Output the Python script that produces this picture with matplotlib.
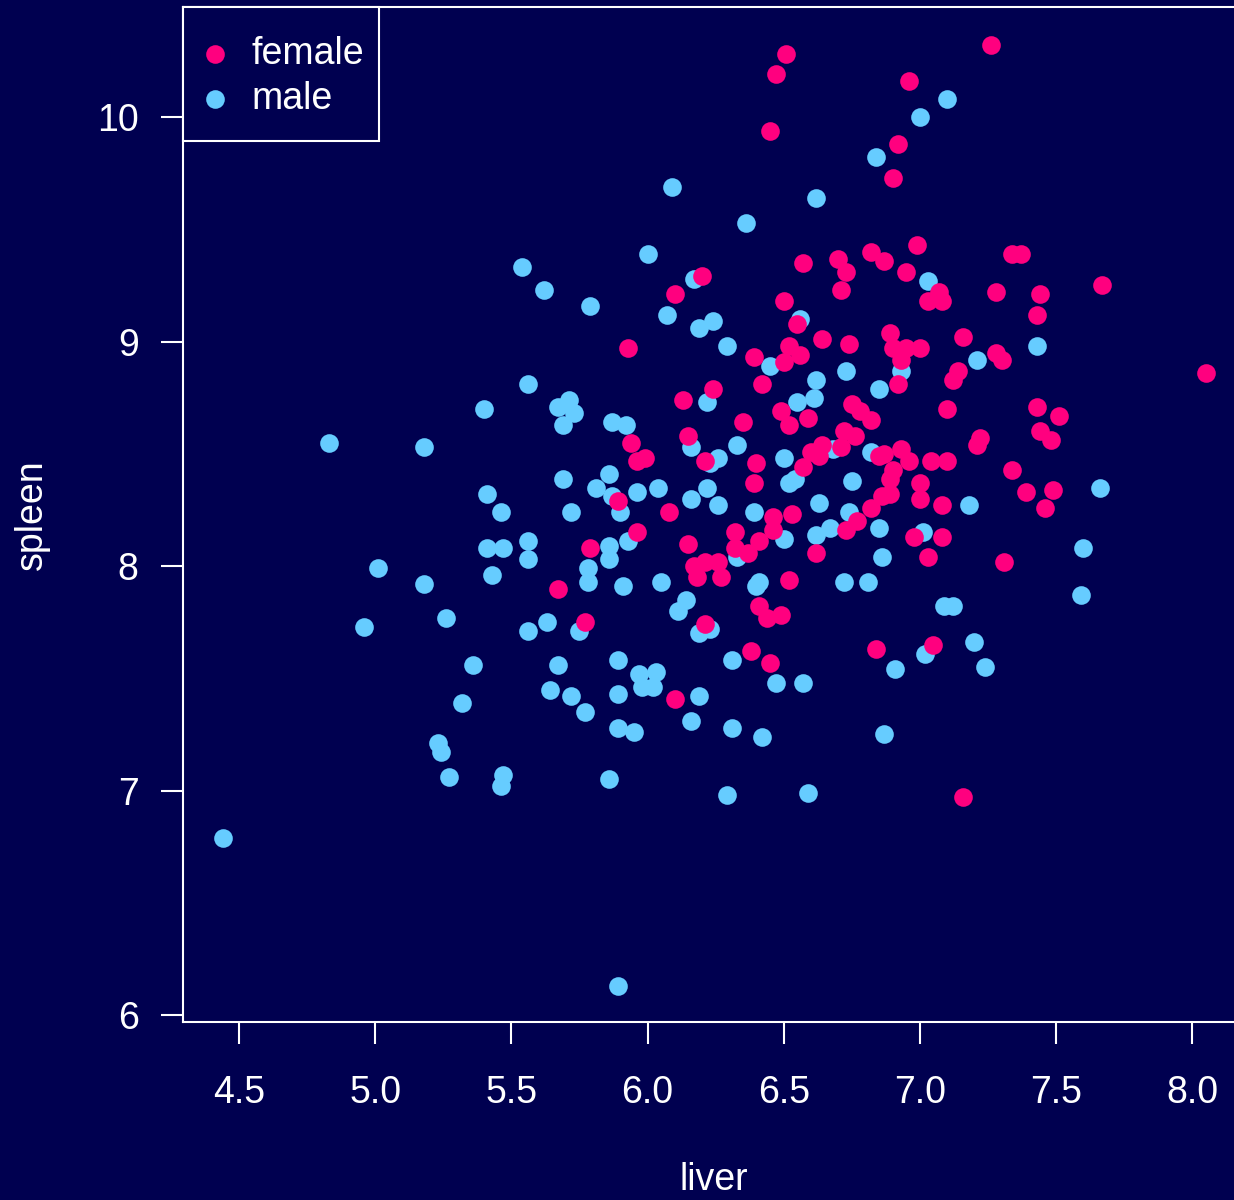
import matplotlib.pyplot as plt
from matplotlib.patches import Rectangle

plt.rcParams['font.family'] = ['Liberation Sans', 'DejaVu Sans']

# values
female_liver = [6.51, 6.47, 7.26, 6.45, 6.96, 6.92, 6.90, 6.99, 6.87, 6.95,
                7.34, 7.37, 7.67, 7.28, 7.44, 7.43, 7.07, 7.03, 7.08, 6.89,
                6.90, 6.95, 7.00, 6.93, 7.16, 7.28, 7.30, 7.14, 7.12, 6.92,
                6.20, 6.10, 6.57, 6.70, 6.73, 6.71, 6.82, 6.50, 6.55, 6.52,
                6.56, 6.50, 6.39, 6.64, 6.74, 6.24, 6.42, 5.93, 5.94, 5.96,
                5.99, 5.89, 5.96, 5.79, 5.67, 5.77, 6.13, 6.35, 6.15, 6.21,
                6.40, 6.39, 6.49, 6.52, 6.59, 6.75, 6.78, 6.82, 6.72, 6.76,
                6.71, 6.64, 6.60, 6.63, 6.57, 6.85, 6.08, 6.46, 6.53, 6.32,
                6.46, 6.41, 6.32, 6.37, 6.15, 6.62, 6.77, 6.73, 6.82, 6.17,
                6.21, 6.26, 6.18, 6.27, 6.52, 6.41, 6.44, 6.49, 6.86, 6.89,
                7.10, 7.43, 7.51, 7.44, 7.48, 7.22, 7.21, 7.34, 7.39, 7.49,
                7.46, 7.08, 7.04, 7.10, 7.00, 7.00, 6.93, 6.96, 6.87, 6.90,
                6.89, 6.98, 7.08, 7.03, 7.31, 6.21, 6.38, 6.45, 6.10, 6.84,
                7.05, 7.16, 8.05]
female_spleen = [10.28, 10.19, 10.32, 9.94, 10.16, 9.88, 9.73, 9.43, 9.36, 9.31,
                 9.39, 9.39, 9.25, 9.22, 9.21, 9.12, 9.22, 9.18, 9.18, 9.04,
                 8.97, 8.97, 8.97, 8.92, 9.02, 8.95, 8.92, 8.87, 8.83, 8.81,
                 9.29, 9.21, 9.35, 9.37, 9.31, 9.23, 9.40, 9.18, 9.08, 8.98,
                 8.94, 8.91, 8.93, 9.01, 8.99, 8.79, 8.81, 8.97, 8.55, 8.47,
                 8.48, 8.29, 8.15, 8.08, 7.90, 7.75, 8.74, 8.64, 8.58, 8.47,
                 8.46, 8.37, 8.69, 8.63, 8.66, 8.72, 8.69, 8.65, 8.60, 8.58,
                 8.53, 8.54, 8.51, 8.49, 8.44, 8.49, 8.24, 8.22, 8.23, 8.15,
                 8.16, 8.11, 8.08, 8.06, 8.10, 8.06, 8.20, 8.16, 8.26, 8.00,
                 8.02, 8.02, 7.95, 7.95, 7.94, 7.82, 7.77, 7.78, 8.31, 8.32,
                 8.70, 8.71, 8.67, 8.60, 8.56, 8.57, 8.54, 8.43, 8.33, 8.34,
                 8.26, 8.27, 8.47, 8.47, 8.37, 8.30, 8.52, 8.47, 8.50, 8.43,
                 8.39, 8.13, 8.13, 8.04, 8.02, 7.74, 7.62, 7.57, 7.41, 7.63,
                 7.65, 6.97, 8.86]

male_liver = [7.10, 7.00, 6.84, 6.09, 6.62, 6.36, 6.00, 6.17, 6.07, 6.24,
              6.19, 6.29, 6.45, 6.56, 6.73, 6.62, 6.85, 5.54, 5.62, 5.79,
              5.56, 7.03, 7.21, 7.43, 6.93, 5.40, 5.18, 5.67, 5.71, 5.73,
              5.69, 5.87, 5.92, 5.86, 5.69, 5.81, 5.87, 5.96, 5.90, 5.72,
              5.41, 5.46, 5.56, 5.56, 5.41, 5.47, 5.43, 5.78, 5.78, 5.86,
              5.86, 5.93, 5.91, 5.18, 6.22, 6.55, 6.61, 6.16, 6.26, 6.23,
              6.33, 6.50, 6.52, 6.54, 6.68, 6.82, 6.75, 6.04, 6.22, 6.16,
              6.26, 6.39, 6.63, 6.74, 6.85, 6.67, 6.62, 6.50, 6.33, 6.86,
              6.05, 6.41, 6.40, 6.72, 6.81, 6.14, 6.11, 7.18, 7.66, 7.01,
              7.60, 7.59, 7.09, 7.12, 5.26, 5.56, 5.63, 5.75, 5.36, 5.67,
              5.89, 5.97, 6.03, 5.98, 6.02, 5.64, 5.72, 5.77, 5.89, 5.89,
              5.95, 5.32, 5.23, 5.24, 5.27, 5.47, 5.46, 5.86, 6.19, 6.23,
              6.31, 6.47, 6.57, 6.19, 6.16, 6.31, 6.42, 6.87, 6.29, 6.59,
              7.20, 7.02, 6.91, 7.24, 4.83, 5.01, 4.96, 4.44, 5.89]
male_spleen = [10.08, 10.00, 9.82, 9.69, 9.64, 9.53, 9.39, 9.28, 9.12, 9.09,
               9.06, 8.98, 8.89, 9.10, 8.87, 8.83, 8.79, 9.33, 9.23, 9.16,
               8.81, 9.27, 8.92, 8.98, 8.87, 8.70, 8.53, 8.71, 8.74, 8.68,
               8.63, 8.64, 8.63, 8.41, 8.39, 8.35, 8.31, 8.33, 8.24, 8.24,
               8.32, 8.24, 8.11, 8.03, 8.08, 8.08, 7.96, 7.99, 7.93, 8.09,
               8.03, 8.11, 7.91, 7.92, 8.73, 8.73, 8.75, 8.53, 8.48, 8.46,
               8.54, 8.48, 8.37, 8.39, 8.52, 8.51, 8.38, 8.35, 8.35, 8.30,
               8.27, 8.24, 8.28, 8.24, 8.17, 8.17, 8.14, 8.12, 8.04, 8.04,
               7.93, 7.93, 7.91, 7.93, 7.93, 7.85, 7.80, 8.27, 8.35, 8.15,
               8.08, 7.87, 7.82, 7.82, 7.77, 7.71, 7.75, 7.71, 7.56, 7.56,
               7.58, 7.52, 7.53, 7.46, 7.46, 7.45, 7.42, 7.35, 7.43, 7.28,
               7.26, 7.39, 7.21, 7.17, 7.06, 7.07, 7.02, 7.05, 7.70, 7.72,
               7.58, 7.48, 7.48, 7.42, 7.31, 7.28, 7.24, 7.25, 6.98, 6.99,
               7.66, 7.61, 7.54, 7.55, 8.55, 7.99, 7.73, 6.79, 6.13]

x_ticks = [4.5, 5.0, 5.5, 6.0, 6.5, 7.0, 7.5, 8.0]
y_ticks = [6, 7, 8, 9, 10]

bg = '#000050'
pink = '#FF007F'
blue = '#66CCFF'

fig = plt.figure(figsize=(12.34, 12), dpi=100, facecolor=bg)
ax = fig.add_axes([0.1483, 0.1483, 0.8606, 0.8458], facecolor=bg)

ax.scatter(male_liver, male_spleen, s=180, c=blue, linewidths=0, zorder=3)
ax.scatter(female_liver, female_spleen, s=180, c=pink, linewidths=0, zorder=3)

ax.set_xlim(4.294, 8.194)
ax.set_ylim(5.969, 10.49)

ax.set_xticks(x_ticks)
ax.set_xticklabels([f'{v:.1f}' for v in x_ticks])
ax.set_yticks(y_ticks)
ax.set_yticklabels([str(v) for v in y_ticks])
ax.tick_params(colors='white', labelcolor='white', labelsize=27,
               length=16, width=1.5)
ax.tick_params(axis='x', pad=22)
ax.tick_params(axis='y', pad=16)
for s in ax.spines.values():
    s.set_color('white')
    s.set_linewidth(1.5)

ax.set_xlabel('liver', color='white', fontsize=27, labelpad=37)
ax.set_ylabel('spleen', color='white', fontsize=27, labelpad=34)

# legend box in the top left corner, R style
ax.add_patch(Rectangle((0, 1 - 0.132), 0.1846, 0.132, transform=ax.transAxes,
                       facecolor=bg, edgecolor='white', linewidth=1.5,
                       zorder=4, clip_on=False))
hf = ax.scatter([], [], s=180, c=pink, linewidths=0, label='female')
hm = ax.scatter([], [], s=180, c=blue, linewidths=0, label='male')
leg = ax.legend(handles=[hf, hm], loc='upper left', bbox_to_anchor=(0, 1),
                borderaxespad=0, frameon=False, labelcolor='white', fontsize=27,
                handlelength=0.16, handletextpad=0.9, borderpad=0.76,
                labelspacing=0.26)
leg.set_zorder(5)

fig.savefig('out.png', dpi=100, facecolor=bg)
